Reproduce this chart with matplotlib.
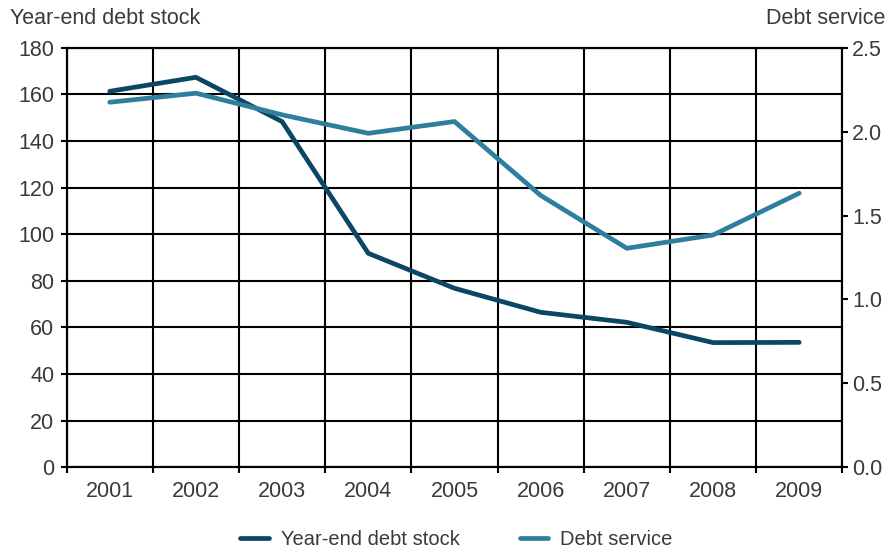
import matplotlib
matplotlib.use('Agg')
import matplotlib.pyplot as plt
import numpy as np

years = ['2001', '2002', '2003', '2004', '2005', '2006', '2007', '2008', '2009']
debt_stock = [161.3, 167.3, 148.3, 91.8, 76.8, 66.5, 62.2, 53.5, 53.6]
debt_service = [2.175, 2.229, 2.10, 1.99, 2.06, 1.62, 1.305, 1.384, 1.633]

left_ticks = list(range(0, 181, 20))
right_ticks = [0.0, 0.5, 1.0, 1.5, 2.0, 2.5]

dark = '#0b4664'
teal = '#2e7f9e'
txt = '#3a3a3a'

plt.rcParams['font.family'] = ['Liberation Sans', 'DejaVu Sans']

fig = plt.figure(figsize=(8.9, 5.52), dpi=100)
ax = fig.add_axes([0.0749, 0.1534, 0.8715, 0.7602])
ax2 = ax.twinx()

x = np.arange(len(years))
ax.plot(x, debt_stock, color=dark, lw=3.4, solid_capstyle='round', zorder=3,
        label='Year-end debt stock')
ax2.plot(x, debt_service, color=teal, lw=3.4, solid_capstyle='round', zorder=3,
         label='Debt service')

ax.set_xlim(-0.5, len(years) - 0.5)
ax.set_ylim(0, 180)
ax2.set_ylim(0, 2.5)

ax.set_xticks(x)
ax.set_xticklabels(years)
ax.set_xticks(np.arange(-0.5, len(years)), minor=True)
ax.tick_params(axis='x', which='major', length=0, pad=10, labelsize=15.5, labelcolor=txt)
ax.tick_params(axis='x', which='minor', length=4, width=1.5, direction='out')

ax.set_yticks(left_ticks)
ax.tick_params(axis='y', length=4, width=1.5, direction='out', pad=5, labelsize=15.5, labelcolor=txt)
ax2.set_yticks(right_ticks)
ax2.set_yticklabels([f'{v:.1f}' for v in right_ticks])
ax2.tick_params(axis='y', length=4, width=1.5, direction='out', pad=3, labelsize=15.5, labelcolor=txt)

ax.grid(True, axis='y', color='black', lw=1.5, zorder=1)
ax.grid(True, axis='x', which='minor', color='black', lw=1.5, zorder=1)
ax.set_axisbelow(True)

for a in (ax, ax2):
    for s in a.spines.values():
        s.set_color('black')
        s.set_linewidth(1.5)

ax2.patch.set_visible(False)

fig.text(0.011, 0.967, 'Year-end debt stock', fontsize=15.5, color=txt, ha='left', va='center')
fig.text(0.995, 0.967, 'Debt service', fontsize=15.5, color=txt, ha='right', va='center')

h1, l1 = ax.get_legend_handles_labels()
h2, l2 = ax2.get_legend_handles_labels()
fig.legend(h1 + h2, l1 + l2, loc='center', bbox_to_anchor=(0.513, 0.022), ncol=2,
           frameon=False, fontsize=14.5, labelcolor=txt, handlelength=1.4,
           columnspacing=3.0, handletextpad=0.6)

fig.savefig('out.png', dpi=100)
